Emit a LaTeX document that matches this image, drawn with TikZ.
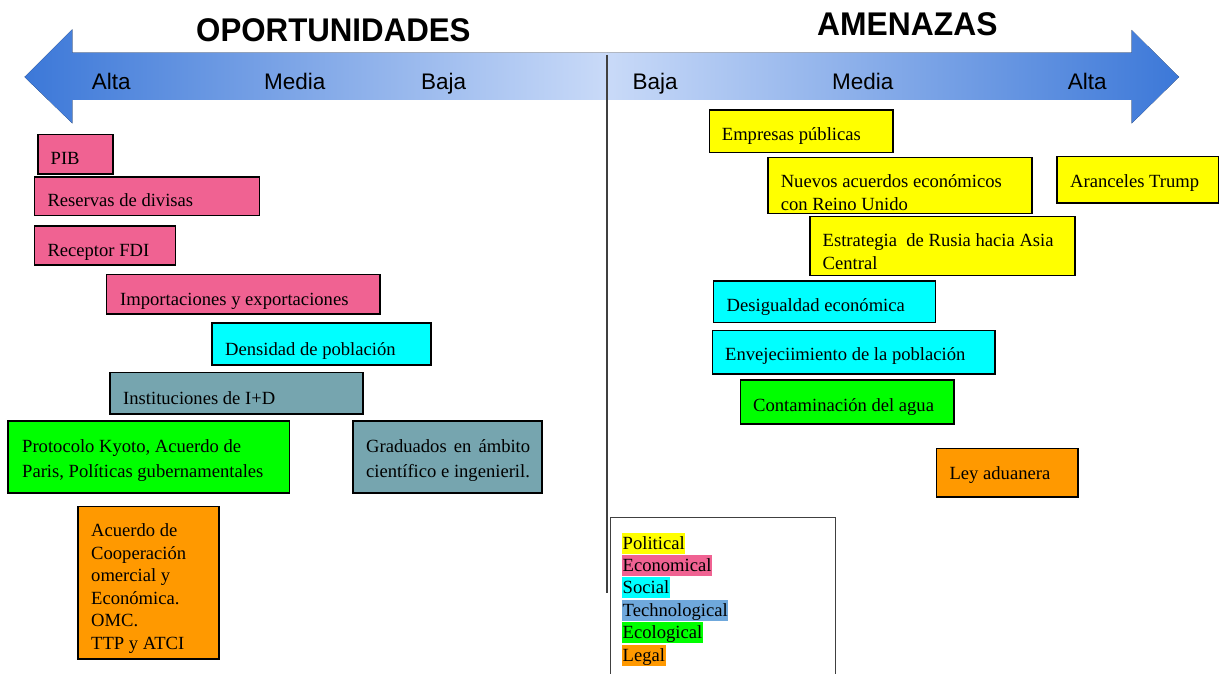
\documentclass[tikz,border=0pt]{standalone}
\usepackage{fontspec}
\setmainfont{Liberation Serif}
\newfontfamily\sansf{Liberation Sans}
\usetikzlibrary{shadings}
\definecolor{dkblue}{HTML}{3C78D8}
\definecolor{ltblue}{HTML}{C9DAF8}
\definecolor{pinkc}{RGB}{240,98,146}
\definecolor{cyanc}{HTML}{00FFFF}
\definecolor{tealc}{HTML}{76A5AF}
\definecolor{greenc}{HTML}{00FF00}
\definecolor{orangec}{HTML}{FF9900}
\definecolor{yellowc}{HTML}{FFFF00}
\definecolor{techc}{HTML}{6FA8DC}
\definecolor{linec}{HTML}{404040}
\newcommand\bxfont{\fontsize{18.6}{22.5}\selectfont}
\newcommand\bxnode[6]{\node[bx,fill=#6,minimum width={#4-#2},minimum height={#5-#3}] (#1) at ({(#2+#4)/2},{(#3+#5)/2}) {};}
\tikzset{
  bx/.style={draw=black,line width=1.3pt,inner sep=0pt},
  txt/.style={anchor=base west,inner sep=0pt,font=\bxfont},
  scl/.style={anchor=base west,inner sep=0pt,font=\sansf\fontsize{22.5}{26}\selectfont},
  ttl/.style={anchor=base west,inner sep=0pt,font=\sansf\bfseries\fontsize{32.8}{38}\selectfont},
  leg/.style={anchor=base west,inner xsep=0.5pt,inner ysep=0pt,text height=16.5pt,text depth=4.5pt,font=\bxfont},
}
\begin{document}
\begin{tikzpicture}[x=1pt,y=-1pt]
\useasboundingbox (0,0) rectangle (1219,674);
% arrows
\fill[left color=dkblue,right color=ltblue] (24.5,77) -- (72.3,29.3) -- (72.3,52.7) -- (607,52.7) -- (607,100) -- (72.3,100) -- (72.3,123.3) -- cycle;
\fill[left color=ltblue,right color=dkblue] (607,52.7) -- (1131.6,52.7) -- (1131.6,30) -- (1179,77) -- (1131.6,123.5) -- (1131.6,100) -- (607,100) -- cycle;
\draw[linec,line width=1.5pt] (607,55) -- (607,593);
% titles
\node[ttl] (op) at (196,42) {\scalebox{0.953}[1]{OPORTUNIDADES}};
\node[ttl] (am) at (817,36) {\scalebox{0.97}[1]{AMENAZAS}};
% scale labels
\node[scl] (l1) at (91.7,89.3) {Alta};
\node[scl] (l2) at (264,89.3) {Media};
\node[scl] (l3) at (421,89.3) {Baja};
\node[scl] (r1) at (632.4,89.3) {Baja};
\node[scl] (r2) at (832,89.3) {Media};
\node[scl] (r3) at (1067.6,89.3) {Alta};
% left boxes
\bxnode{pib}{38}{134.5}{113}{174}{pinkc}
\node[txt] (tpib) at (50.5,165) {PIB};
\bxnode{res}{34.5}{177}{259.5}{215.5}{pinkc}
\node[txt] (tres) at (47.3,207) {Reservas de divisas};
\bxnode{fdi}{34.5}{226}{175.5}{265}{pinkc}
\node[txt] (tfdi) at (47.3,256) {Receptor FDI};
\bxnode{imp}{106.7}{274.3}{380}{314}{pinkc}
\node[txt] (timp) at (120,305) {Importaciones y exportaciones};
\bxnode{den}{212}{323}{431}{365}{cyanc}
\node[txt] (tden) at (225,355) {Densidad de población};
\bxnode{ins}{110}{372.7}{363}{414}{tealc}
\node[txt] (tins) at (123,404) {Instituciones de I+D};
\bxnode{kyo}{8}{421}{289.6}{493}{greenc}
\node[txt,font=\fontsize{18.6}{24.6}\selectfont] (tkyo) at (22,452.7) {\begin{tabular}[t]{@{}l@{}}Protocolo Kyoto, Acuerdo de\\Paris, Políticas gubernamentales\end{tabular}};
\bxnode{gra}{353}{421}{542}{493}{tealc}
\node[txt,font=\fontsize{18.6}{24.6}\selectfont] (tgra) at (366,452.7) {\begin{tabular}[t]{@{}l@{}}\makebox[164pt][s]{Graduados en ámbito}\\científico e ingenieril.\end{tabular}};
\bxnode{acu}{78}{506.7}{219}{659}{orangec}
\node[txt] (tacu) at (91,536.7) {\begin{tabular}[t]{@{}l@{}}Acuerdo de\\Cooperación\\omercial y\\Económica.\\OMC.\\TTP y ATCI\end{tabular}};
% right boxes
\bxnode{emp}{709.5}{110}{893}{152.3}{yellowc}
\node[txt] (temp) at (721.7,140.7) {Empresas públicas};
\bxnode{nue}{768}{157.3}{1032}{213.7}{yellowc}
\node[txt] (tnue) at (780.6,187.7) {\begin{tabular}[t]{@{}l@{}}Nuevos acuerdos económicos\\con Reino Unido\end{tabular}};
\bxnode{ara}{1057}{156.3}{1218.6}{203}{yellowc}
\node[txt] (tara) at (1070,187.3) {Aranceles Trump};
\bxnode{est}{810}{216.7}{1075}{275.3}{yellowc}
\node[txt] (test) at (822.5,246.7) {\begin{tabular}[t]{@{}l@{}}Estrategia\ \ de Rusia hacia Asia\\Central\end{tabular}};
\bxnode{des}{713.8}{281}{935.6}{322.7}{cyanc}
\node[txt] (tdes) at (726.5,311) {Desigualdad económica};
\bxnode{env}{712.6}{330.7}{995}{374}{cyanc}
\node[txt] (tenv) at (725,360.7) {Envejeciimiento de la población};
\bxnode{con}{740.3}{380}{954}{424}{greenc}
\node[txt] (tcon) at (753,411.7) {Contaminación del agua};
\bxnode{ley}{936.8}{448.3}{1078}{497}{orangec}
\node[txt] (tley) at (949.4,479.3) {Ley aduanera};
% legend
\draw[linec,line width=1pt] (610.7,690) -- (610.7,517.7) -- (835.3,517.7) -- (835.3,690);
\node[leg,fill=yellowc] (g1) at (622,549) {Political};
\node[leg,fill=pinkc] (g2) at (622,571.4) {Economical};
\node[leg,fill=cyanc] (g3) at (622,593.8) {Social};
\node[leg,fill=techc] (g4) at (622,616.2) {Technological};
\node[leg,fill=greenc] (g5) at (622,638.6) {Ecological};
\node[leg,fill=orangec] (g6) at (622,661) {Legal};
\end{tikzpicture}
\end{document}
